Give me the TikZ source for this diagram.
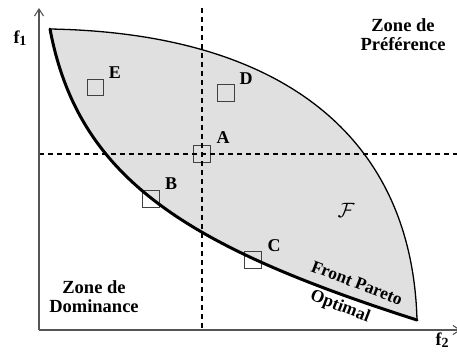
\documentclass[tikz,border=0pt]{standalone}
\usepackage{fontspec}
\setmainfont{Liberation Serif}
\usetikzlibrary{arrows.meta,positioning}
\definecolor{feasgray}{RGB}{224,224,224}
\definecolor{axisgray}{RGB}{85,85,85}
\tikzset{
  axis/.style={draw=axisgray, line width=1.1pt, -{Straight Barb[length=7pt,width=9pt]}},
  guide/.style={draw=black, line width=1.4pt, dash pattern=on 5pt off 4pt},
  front/.style={draw=black, line width=3pt, line cap=round},
  bound/.style={draw=black, line width=1.3pt},
  sol/.style={rectangle, draw=black!75, line width=1.1pt, minimum size=16.5pt, inner sep=0pt},
  lbl/.style={font=\bfseries\fontsize{18}{19}\selectfont, inner sep=0pt},
  zone/.style={font=\bfseries\fontsize{18.5}{19}\selectfont, align=center, inner sep=0pt},
  frontlbl/.style={font=\bfseries\fontsize{17.5}{18}\selectfont, inner sep=0pt, rotate=-21}
}

\begin{document}
\begin{tikzpicture}[x=1pt,y=-1pt]
\useasboundingbox (0,0) rectangle (457,354);
\clip (0,0) rectangle (457,354);

\coordinate (O) at (39,330);
\coordinate (ytop) at (39,8);
\coordinate (xend) at (461,330);
\coordinate (ideal) at (50,29);
\coordinate (nadir) at (417,320);

% feasible region
\fill[feasgray] (ideal) .. controls (280,33) and (412,135) .. (nadir)
  .. controls (185,246) and (78,178) .. (ideal) -- cycle;

\node[sol] (ptA) at (202,154) {};
\node[sol] (ptB) at (151,199) {};
\node[sol] (ptC) at (253,260) {};
\node[sol] (ptD) at (226,93) {};
\node[sol] (ptE) at (95.5,87.5) {};

\draw[guide] (ptA.center |- ytop) -- (ptA.center |- O);
\draw[guide] (ptA.center -| O) -- (ptA.center -| xend);

\draw[bound] (ideal) .. controls (280,33) and (412,135) .. (nadir);
\draw[front] (ideal) .. controls (78,178) and (185,246) .. (nadir);

\draw[axis] (O) -- (ytop);
\draw[axis] (O) -- (xend);

\node[lbl] (lblA) at (223,138) {A};
\node[lbl] (lblB) at (171,184) {B};
\node[lbl] (lblC) at (274,246) {C};
\node[lbl] (lblD) at (246,79) {D};
\node[lbl] (lblE) at (115,73) {E};

\node[lbl] (f1) at (20,38) {f\raisebox{-0.3ex}{\fontsize{14}{14}\selectfont 1}};
\node[lbl] (f2) at (442,340) {f\raisebox{-0.3ex}{\fontsize{14}{14}\selectfont 2}};

\node[zone] (pref) at (403,35) {Zone de\\Préférence};
\node[zone] (domin) at (94,297) {Zone de\\Dominance};
\node[inner sep=0pt, font=\fontsize{22}{22}\selectfont] (feas) at (346,210) {$\mathcal{F}$};

\node[frontlbl] (fp1) at (357,283) {Front Pareto};
\node[frontlbl] (fp2) at (340,307) {Optimal};

\end{tikzpicture}
\end{document}
